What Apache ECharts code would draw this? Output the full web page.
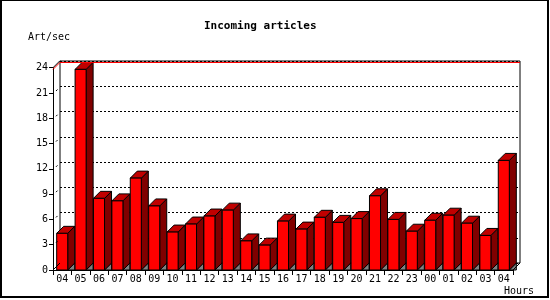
<!DOCTYPE html>
<html>
<head>
<meta charset="utf-8">
<script src="https://cdn.jsdelivr.net/npm/echarts@6/dist/echarts.min.js"></script>
<style>
html,body{margin:0;padding:0;background:#fff;}
#wrap{position:relative;width:550px;height:300px;}
#frame{position:absolute;left:0;top:0;width:549px;height:298px;box-sizing:border-box;border:2px solid #000;border-top-width:1px;pointer-events:none;z-index:5;}
#chart{position:absolute;left:0;top:0;width:550px;height:300px;}
</style>
</head>
<body>
<div id="wrap"><div id="chart"></div><div id="frame"></div></div>
<script>
// ---- data ----
const titleText = 'Incoming articles';
const yName = 'Art/sec';
const xName = 'Hours';
const hours = ['04','05','06','07','08','09','10','11','12','13','14','15','16','17','18','19','20','21','22','23','00','01','02','03','04'];
const rates = [4.35,23.8,8.5,8.2,10.9,7.6,4.5,5.45,6.4,7.1,3.45,2.95,5.8,4.85,6.25,5.65,6.1,8.8,6.0,4.6,5.9,6.5,5.55,4.1,13.0];
const yTicks = [0,3,6,9,12,15,18,21,24];

const DEPTH = 7;
const FONT = '"DejaVu Sans Mono", "Liberation Mono", monospace';
const maxRate = Math.max.apply(null, rates);

const chart = echarts.init(document.getElementById('chart'), null, {renderer:'canvas'});

function renderBar(params, api) {
  const i = api.value(0), v = api.value(1);
  const top = api.coord([i, v]);
  const base = api.coord([i, 0]);
  const band = api.size([1, 0])[0];
  const w = band * 0.6;
  const x0 = top[0] - w / 2, x1 = top[0] + w / 2;
  const yt = top[1], yb = base[1], d = DEPTH;
  const stroke = {stroke:'#000', lineWidth:1};
  return {
    type:'group',
    children:[
      {type:'polygon', shape:{points:[[x1,yb],[x1+d,yb-d],[x1+d,yb]]}, style:Object.assign({fill:'#808080'}, stroke)},
      {type:'polygon', shape:{points:[[x1,yt],[x1+d,yt-d],[x1+d,yb-d],[x1,yb]]}, style:Object.assign({fill:'#800000'}, stroke)},
      {type:'polygon', shape:{points:[[x0,yt],[x1,yt],[x1+d,yt-d],[x0+d,yt-d]]}, style:Object.assign({fill:'#c00000'}, stroke)},
      {type:'rect', shape:{x:x0, y:yt, width:w, height:yb-yt}, style:Object.assign({fill:'#ff0000'}, stroke)}
    ]
  };
}

function renderFrame(params, api) {
  const cs = params.coordSys;
  const L = cs.x, R = cs.x + cs.width, B = cs.y + cs.height;
  const d = DEPTH;
  const children = [
    {type:'line', shape:{x1:L, y1:B, x2:L+d, y2:B-d}, style:{stroke:'#000', lineWidth:1}},
    {type:'line', shape:{x1:R, y1:B, x2:R+d, y2:B-d}, style:{stroke:'#000', lineWidth:1}},
    {type:'line', shape:{x1:L, y1:cs.y, x2:L+d, y2:cs.y-d}, style:{stroke:'#000', lineWidth:1}}
  ];
  const ym = api.coord([0, maxRate])[1];
  children.push({type:'line', shape:{x1:L, y1:ym, x2:L+d, y2:ym-d}, style:{stroke:'#ff0000', lineWidth:1}});
  yTicks.forEach(function(t){
    if (t === 0 || t === 24) return;
    const yy = api.coord([0, t])[1];
    children.push({type:'line', shape:{x1:L+3, y1:yy-2, x2:L+4.5, y2:yy-3.5}, style:{stroke:'#000', lineWidth:1}});
  });
  return {type:'group', children:children};
}

const barData = rates.map(function(v, i){ return [i, v]; });

chart.setOption({
  animation:false,
  backgroundColor:'#fff',
  grid:[
    {left:53, right:37, top:67.7, bottom:30, show:false},
    {left:60, right:30, top:61, bottom:37, show:true, borderColor:'#000', borderWidth:1, backgroundColor:'transparent'}
  ],
  xAxis:[
    {type:'category', gridIndex:0, data:hours, boundaryGap:true,
     axisLine:{show:true, lineStyle:{color:'#000', width:1}},
     axisTick:{show:true, interval:0, length:5, lineStyle:{color:'#000'}},
     axisLabel:{interval:0, margin:4, color:'#000', fontFamily:FONT, fontSize:10}},
    {type:'category', gridIndex:1, data:hours, boundaryGap:true, show:false}
  ],
  yAxis:[
    {type:'value', gridIndex:0, min:0, max:24, interval:3,
     axisLine:{show:true, lineStyle:{color:'#000', width:1}},
     axisTick:{show:true, length:4, lineStyle:{color:'#000'}},
     axisLabel:{margin:5, color:'#000', fontFamily:FONT, fontSize:10},
     splitLine:{show:false}},
    {type:'value', gridIndex:1, min:0, max:24, interval:3,
     axisLine:{show:false}, axisTick:{show:false}, axisLabel:{show:false},
     splitLine:{show:true, lineStyle:{color:'#000', width:1, type:[2,2]}}}
  ],
  series:[
    {type:'line', xAxisIndex:1, yAxisIndex:1, data:rates, z:1, silent:true,
     showSymbol:false, symbol:'none', lineStyle:{opacity:0},
     markLine:{silent:true, symbol:'none', label:{show:false},
       lineStyle:{color:'#ff0000', width:1, type:'solid'},
       data:[{yAxis:maxRate}]}},
    {type:'custom', xAxisIndex:0, yAxisIndex:0, data:barData, renderItem:renderBar, z:3,
     encode:{x:0, y:1}},
    {type:'custom', xAxisIndex:0, yAxisIndex:0, data:[[0,0]], renderItem:renderFrame, z:4, silent:true,
     encode:{x:0, y:1}}
  ],
  graphic:[
    {type:'text', left:204, top:21, style:{text:titleText, fill:'#000', font:'bold 11px ' + FONT}},
    {type:'text', left:28, top:32, style:{text:yName, fill:'#000', font:'10px ' + FONT}},
    {type:'text', left:504, top:286, style:{text:xName, fill:'#000', font:'10px ' + FONT}}
  ]
});
</script>
</body>
</html>
